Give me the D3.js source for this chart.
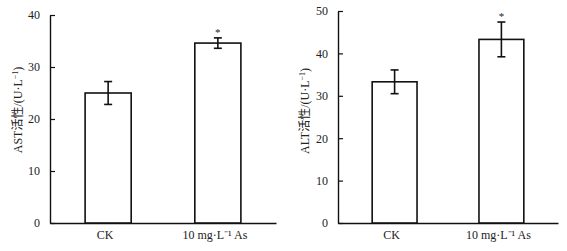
<!DOCTYPE html>
<html>
<head>
<meta charset="utf-8">
<script src="https://cdn.jsdelivr.net/npm/d3@7"></script>
<style>
  body { margin: 0; background: #fff; }
  text { font-family: "Liberation Serif", "Noto Sans CJK SC", serif; fill: #222; }
</style>
</head>
<body>
<script>
// groups on the x axis
var groups = ["CK", "10 mg·L⁻¹ As"];

// AST panel
var astMean = [25.0, 34.6];
var astErr = [2.2, 1.0];
var astTicks = [0, 10, 20, 30, 40];

// ALT panel
var altMean = [33.3, 43.3];
var altErr = [2.8, 4.1];
var altTicks = [0, 10, 20, 30, 40, 50];

var stars = ["", "*"];

var svg = d3.select("body").append("svg")
  .attr("width", 567)
  .attr("height", 251);

function panel(opt) {
  var g = svg.append("g");

  var x = d3.scaleBand()
    .domain(groups)
    .range([opt.left, opt.right])
    .paddingInner(0.58)
    .paddingOuter(0.32);

  var y = d3.scaleLinear()
    .domain([0, opt.max])
    .range([opt.bottom, opt.top]);

  // y axis with inward ticks
  var yAxis = g.append("g")
    .attr("transform", "translate(" + opt.left + ",0)")
    .call(d3.axisLeft(y).tickValues(opt.ticks).tickSize(-5).tickPadding(10).tickSizeOuter(0));
  yAxis.select(".domain").attr("stroke", "#111").attr("stroke-width", 1.4);
  yAxis.selectAll(".tick line").attr("stroke", "#111").attr("stroke-width", 1.2);
  yAxis.selectAll("text").attr("font-size", 12).attr("font-family", "Liberation Serif").attr("fill", "#222");

  // x axis, no ticks
  var xAxis = g.append("g")
    .attr("transform", "translate(0," + opt.bottom + ")")
    .call(d3.axisBottom(x).tickSize(0).tickPadding(10).tickFormat(function () { return ""; }));
  xAxis.select(".domain").attr("stroke", "#111").attr("stroke-width", 1.4);

  g.selectAll(".xlab")
    .data(groups)
    .enter()
    .append("text")
    .attr("class", "xlab")
    .attr("x", function (d) { return x(d) + x.bandwidth() / 2 - 3; })
    .attr("y", opt.bottom + 16)
    .attr("text-anchor", "middle")
    .attr("font-size", 12)
    .text(function (d) { return d; });

  // bars
  g.selectAll("rect")
    .data(opt.mean)
    .enter()
    .append("rect")
    .attr("x", function (d, i) { return x(groups[i]); })
    .attr("y", function (d) { return y(d); })
    .attr("width", x.bandwidth())
    .attr("height", function (d) { return opt.bottom - y(d); })
    .attr("fill", "#fff")
    .attr("stroke", "#111")
    .attr("stroke-width", 1.6);

  // error bars
  opt.mean.forEach(function (m, i) {
    var cx = x(groups[i]) + x.bandwidth() / 2;
    var hi = y(m + opt.err[i]), lo = y(m - opt.err[i]);
    g.append("line").attr("x1", cx).attr("x2", cx).attr("y1", hi).attr("y2", lo)
      .attr("stroke", "#111").attr("stroke-width", 1.6);
    [hi, lo].forEach(function (yy) {
      g.append("line").attr("x1", cx - 4).attr("x2", cx + 4).attr("y1", yy).attr("y2", yy)
        .attr("stroke", "#111").attr("stroke-width", 1.6);
    });
    if (stars[i]) {
      g.append("text")
        .attr("x", cx)
        .attr("y", hi - 2)
        .attr("text-anchor", "middle")
        .attr("font-size", 11)
        .text(stars[i]);
    }
  });

  // y label
  var lab = g.append("text")
    .attr("transform", "translate(" + opt.labelX + "," + opt.labelY + ") rotate(-90)")
    .attr("text-anchor", "middle")
    .attr("font-size", 12);
  lab.append("tspan").text(opt.name + "活性/(U·L");
  lab.append("tspan").attr("dy", -4).attr("font-size", 8).text("−1");
  lab.append("tspan").attr("dy", 4).text(")");
}

panel({ left: 50, right: 276, top: 15, bottom: 223, max: 40, ticks: astTicks, mean: astMean, err: astErr, name: "AST", labelX: 22, labelY: 110 });
panel({ left: 338, right: 558, top: 11, bottom: 223, max: 50, ticks: altTicks, mean: altMean, err: altErr, name: "ALT", labelX: 309, labelY: 111 });
</script>
</body>
</html>
